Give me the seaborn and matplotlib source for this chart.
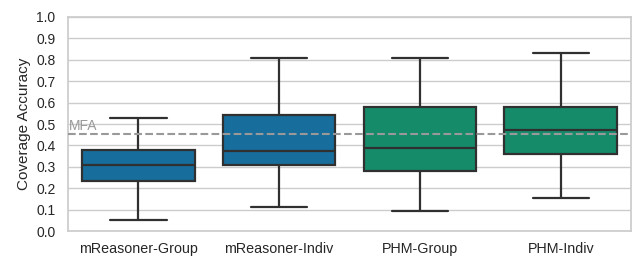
import pandas as pd
import seaborn as sns
import matplotlib
matplotlib.use("Agg")
import matplotlib.pyplot as plt

# five-number summaries (whisker low, q1, median, q3, whisker high)
models = ["mReasoner-Group", "mReasoner-Indiv", "PHM-Group", "PHM-Indiv"]
mreasoner_group = [0.05, 0.235, 0.31, 0.38, 0.53]
mreasoner_indiv = [0.11, 0.31, 0.375, 0.54, 0.81]
phm_group = [0.093, 0.28, 0.39, 0.58, 0.81]
phm_indiv = [0.155, 0.36, 0.47, 0.58, 0.83]
mfa_score = 0.455

rows = []
for name, vals in zip(models, [mreasoner_group, mreasoner_indiv, phm_group, phm_indiv]):
    for v in vals:
        rows.append({"model": name, "score": v})
df = pd.DataFrame(rows)

sns.set_theme(style="whitegrid")
plt.rcParams['font.family'] = ['Liberation Sans', 'DejaVu Sans']

fig, ax = plt.subplots(figsize=(6.35, 2.57), dpi=100)
cb = sns.color_palette("colorblind")
palette = {models[0]: cb[0], models[1]: cb[0], models[2]: cb[2], models[3]: cb[2]}
sns.boxplot(data=df, x="model", y="score", hue="model", palette=palette,
            whis=(0, 100), width=0.8, linewidth=1.6, ax=ax, legend=False)

ax.axhline(mfa_score, color="#999999", linestyle="--", linewidth=1.5, zorder=5)
ax.text(-0.49, mfa_score + 0.005, "MFA", color="#999999", fontsize=10, va="bottom", ha="left")

ax.set_ylim(0, 1.0)
ax.set_yticks([i / 10 for i in range(11)])
ax.set_xlabel("")
ax.set_ylabel("Coverage Accuracy", fontsize=11)
ax.tick_params(axis="y", labelsize=10, pad=3)
ax.tick_params(axis="x", labelsize=10.3, pad=2)

fig.subplots_adjust(left=0.107, right=0.994, top=0.934, bottom=0.101)
fig.savefig("out.png", dpi=100)
